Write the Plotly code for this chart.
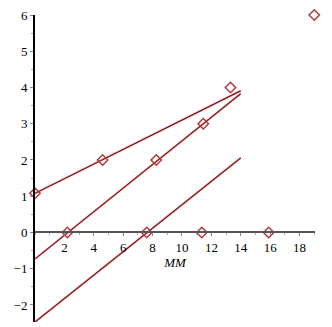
import plotly.graph_objects as go

# data points (open diamonds)
pt_x = [0, 4.6, 8.25, 11.45, 13.3, 19.0, 2.2, 7.6, 11.35, 15.9]
pt_y = [1.08, 2, 2, 3, 4, 6, 0, 0, 0, 0]

# fitted lines (endpoints)
line_x = [0, 14]
line1_y = [1.08, 3.91]
line2_y = [-0.73, 3.83]
line3_y = [-2.47, 2.06]

x_range = [0, 19.05]
y_range = [-2.47, 6.0]
x_ticks = [2, 4, 6, 8, 10, 12, 14, 16, 18]
y_ticks = [-2, -1, 0, 1, 2, 3, 4, 5, 6]

line_color = "#9b1c1f"
marker_color = "#b03a3e"
serif = "Times New Roman, Liberation Serif, serif"

fig = go.Figure()
for ly in (line1_y, line2_y, line3_y):
    fig.add_trace(go.Scatter(x=line_x, y=ly, mode="lines",
                             line=dict(color=line_color, width=1.6),
                             showlegend=False, hoverinfo="skip"))
fig.add_trace(go.Scatter(x=pt_x, y=pt_y, mode="markers",
                         marker=dict(symbol="diamond-open", size=8,
                                     color=marker_color, line=dict(width=1.5)),
                         showlegend=False, cliponaxis=False))

zero_pos = (0 - y_range[0]) / (y_range[1] - y_range[0])

fig.update_layout(
    width=332, height=327,
    margin=dict(l=35, r=17, t=15, b=5),
    paper_bgcolor="white", plot_bgcolor="white",
    font=dict(family=serif, size=13, color="black"),
    xaxis=dict(range=x_range, tickvals=x_ticks, showgrid=False, zeroline=False,
               automargin=False,
               showline=True, linecolor="#555", linewidth=2,
               anchor="free", position=zero_pos,
               tickfont=dict(family=serif, size=13, color="black"),
               ticks="outside", ticklen=3, tickcolor="#888",
               minor=dict(dtick=1, tick0=0, ticklen=2, tickcolor="#aaa", ticks="outside"),
               title=dict(text="<i>MM</i>", standoff=2,
                          font=dict(family=serif, size=13, color="black"))),
    yaxis=dict(range=y_range, tickvals=y_ticks, showgrid=False, zeroline=False,
               automargin=False,
               showline=True, linecolor="black", linewidth=2,
               tickfont=dict(family=serif, size=13, color="black"),
               ticks="outside", ticklen=3, tickcolor="#888",
               minor=dict(dtick=0.5, tick0=0, ticklen=2, tickcolor="#aaa", ticks="outside")),
)

fig.write_html("out.html", config={"displayModeBar": False},
               post_script="document.body.style.margin='0';document.body.style.overflow='hidden';")
